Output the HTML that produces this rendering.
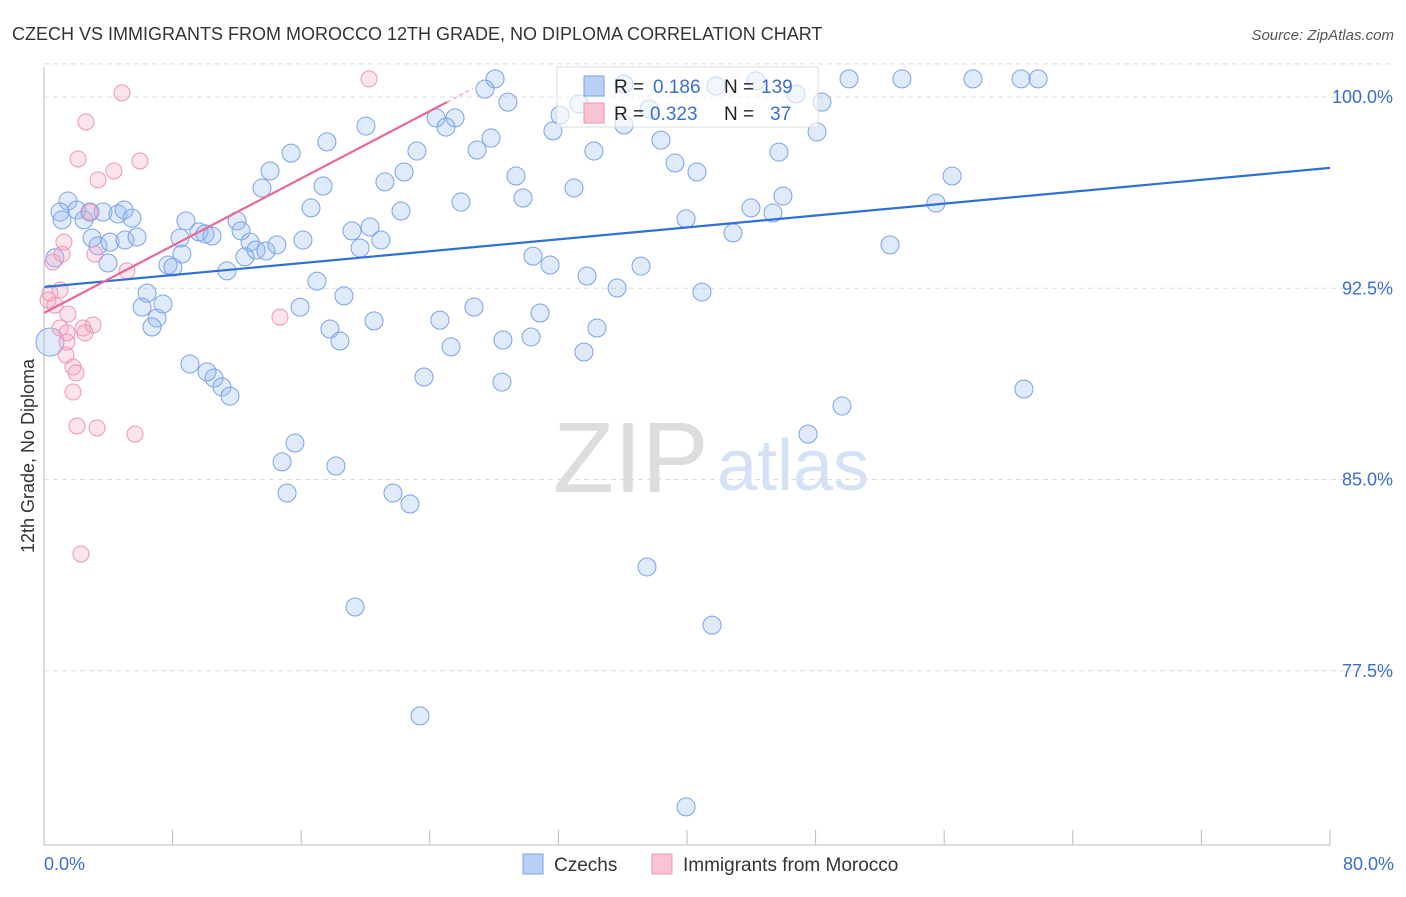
<!DOCTYPE html>
<html><head><meta charset="utf-8"><style>
body{margin:0;background:#fff;font-family:"Liberation Sans",sans-serif}
svg text{font-family:"Liberation Sans",sans-serif}
</style></head><body>
<svg id="chart" width="1406" height="892" viewBox="0 0 1406 892" xmlns="http://www.w3.org/2000/svg">
<text x="12" y="40" font-size="18" fill="#333">CZECH VS IMMIGRANTS FROM MOROCCO 12TH GRADE, NO DIPLOMA CORRELATION CHART</text>
<text x="1394" y="40" font-size="15" fill="#555" text-anchor="end" font-style="italic">Source: ZipAtlas.com</text>
<g id="grid"></g>
<g>
<text x="553" y="492" font-size="100" font-family="Liberation Serif" fill="#ddd">ZIP</text>
<text x="717" y="490" font-size="72" fill="#d5e2f5">atlas</text>
</g>
<g id="pts"></g>
<g id="lines"></g>
<g id="axes"></g>
<g>
<rect x="557" y="67" width="261" height="60" fill="#fff" fill-opacity="0.6" stroke="#ddd"/>
<rect x="584" y="76" width="20" height="20" fill="#b8d0f5" stroke="#7aa3e5"/>
<rect x="584" y="103" width="20" height="20" fill="#f8c4d4" stroke="#ee95b5"/>
<text x="614" y="93" font-size="19" fill="#222">R = </text><text x="653" y="93" font-size="19" fill="#3a6fd0">0.186</text>
<text x="724" y="93" font-size="19" fill="#222">N = </text><text x="761" y="93" font-size="19" fill="#3a6fd0">139</text>
<text x="614" y="120" font-size="19" fill="#222">R = </text><text x="650" y="120" font-size="19" fill="#3a6fd0">0.323</text>
<text x="724" y="120" font-size="19" fill="#222">N = </text><text x="770" y="120" font-size="19" fill="#3a6fd0">37</text>
</g>
<g>
<rect x="523" y="854" width="20" height="20" fill="#b8d0f5" stroke="#7aa3e5"/>
<text x="554" y="871" font-size="19" fill="#333">Czechs</text>
<rect x="652" y="854" width="20" height="20" fill="#f8c4d4" stroke="#ee95b5"/>
<text x="683" y="871" font-size="19" fill="#333">Immigrants from Morocco</text>
</g>
<text transform="translate(34,456) rotate(-90)" font-size="18" fill="#333" text-anchor="middle">12th Grade, No Diploma</text>
</svg>
<script>
const yTicks=[100,92.5,85,77.5];
const yTickLabels=["100.0%","92.5%","85.0%","77.5%"];
const xTickLabels=["0.0%","80.0%"];
const czX=[28.06,27.43,28.86,24.39,25.57,25.01,27.81,26.94,23.2,22.4,21.21,20.03,17.6,15.37,14.06,13.56,17.36,16.61,19.16,20.28,19.66,20.96,22.21,25.94,29.36,29.8,30.42,31.48,33.78,35.65,37.14,39.94,40.93,42.86,43.98,45.35,45.97,52.63,55.49,56.49,40.62,39.25,38.38,34.21,32.97,31.66,32.1,33.28,36.08,36.08,37.64,41.8,44.29,46.78,48.4,48.09,45.72,50.08,53.37,57.79,60.78,61.84,1.49,1,2.05,1.12,2.49,2.86,3.67,4.6,4.98,5.47,2.99,3.36,4.11,5.04,5.79,3.98,0.68,0.37,6.41,6.1,7.03,6.72,7.4,7.71,8.02,8.46,8.83,8.58,9.64,10.02,10.45,11.38,12.01,12.26,12.82,13.19,12.5,13.81,14.49,16.11,16.98,15.93,18.66,17.79,18.41,20.53,24.63,25.32,26.75,28.55,30.3,30.86,33.59,34.4,23.64,28.49,9.08,10.14,10.58,11.07,11.57,15.61,14.81,15.12,18.16,21.71,22.77,19.35,37.51,41.56,23.39,39.94,47.53,49.64,60.96];
const czY=[100.71,100.31,99.8,99.18,99.18,98.82,98.39,97.92,97.88,97.06,96.67,98.86,98.24,97.8,97.1,96.43,96.51,95.65,94.75,94.9,94.08,94.39,95.53,95.88,96.9,96.04,93.76,93.41,92.98,92.51,93.37,95.22,92.35,94.67,95.65,95.45,96.12,94.2,95.84,96.9,97.06,97.41,98.31,97.88,96.43,98.67,99.29,99.73,100.51,98.9,99.53,100.43,100.63,100.12,99.8,98.63,97.84,100.71,100.71,100.71,100.71,100.71,95.92,95.49,95.57,95.18,95.18,95.49,95.49,95.41,95.57,95.25,94.47,94.16,94.31,94.39,94.51,93.49,93.69,90.39,92.31,91.76,91.33,90.98,91.88,93.41,93.33,94.47,95.14,93.84,94.71,94.63,94.55,93.18,95.14,94.75,94.31,94,93.73,93.96,94.2,94.39,92.78,91.76,92.2,90.9,90.43,91.22,91.25,90.2,91.76,90.47,90.59,91.53,90,90.94,89.02,88.82,89.53,89.22,88.98,88.63,88.27,86.43,85.69,84.47,85.53,84.47,84.04,80,81.57,79.29,75.73,72.16,86.78,87.88,88.55];
const moX=[20.22,4.85,2.61,2.12,5.97,4.35,3.36,2.86,1.24,1.12,0.56,5.16,0.37,0.25,0.68,14.68,1,1.43,2.43,3.05,2.55,1.43,1.37,1.8,1.99,1.8,2.05,3.3,5.66,2.3,1,3.17,1.49];
const moY=[100.71,100.16,99.02,97.57,97.49,97.1,96.75,95.49,94.31,93.84,93.53,93.18,92.31,92.04,91.84,91.37,90.94,90.75,90.94,91.06,90.75,90.39,89.88,89.41,89.18,88.43,87.1,87.02,86.78,82.08,92.43,93.84,91.49];
const czLine=[[0,92.55],[80,97.22]];
const moLine=[[0,91.53],[25.07,99.8]];
const NS="http://www.w3.org/2000/svg";
const X=v=>44+v*16.075, Y=v=>97+(100-v)*25.5;
function mk(tag,attrs,parent){const e=document.createElementNS(NS,tag);for(const k in attrs)e.setAttribute(k,attrs[k]);parent.appendChild(e);return e;}
const grid=document.getElementById('grid'),axes=document.getElementById('axes'),pts=document.getElementById('pts'),lines=document.getElementById('lines');
[101.3].concat(yTicks).forEach((t,i)=>{const l=mk('line',{x1:44,x2:1394,y1:Y(t),y2:Y(t),stroke:'#ddd','stroke-dasharray':'5,4'},grid);

});
yTicks.forEach((t,i)=>{const tx=mk('text',{x:1393,y:Y(t)+6,'font-size':18,fill:'#3a6fd0','text-anchor':'end'},axes);tx.textContent=yTickLabels[i];

});
mk('line',{x1:44,x2:44,y1:67,y2:845,stroke:'#bbb'},axes);
mk('line',{x1:44,x2:1330,y1:845,y2:845,stroke:'#bbb'},axes);
for(let k=0;k<=10;k++){const x=X(k*8);const tk=mk('line',{x1:x,x2:x,y1:830,y2:845,stroke:'#bbb'},axes);

}
[[0,'start',44],[80,'end',1394]].forEach((d,i)=>{const tx=mk('text',{x:d[2],y:870,'font-size':18,fill:'#3a6fd0','text-anchor':d[1]},axes);tx.textContent=xTickLabels[i];

});
czX.forEach((v,i)=>{const r=(v<0.5&&czY[i]<91)?14:9;const c=mk('circle',{cx:X(v),cy:Y(czY[i]),r:r,fill:'rgba(150,185,240,0.3)',stroke:'#7aa3e5','stroke-width':1},pts);

});
moX.forEach((v,i)=>{const c=mk('circle',{cx:X(v),cy:Y(moY[i]),r:8,fill:'rgba(245,165,195,0.3)',stroke:'#ee95b5','stroke-width':1},pts);

});
const l1=mk('line',{x1:X(czLine[0][0]),y1:Y(czLine[0][1]),x2:X(czLine[1][0]),y2:Y(czLine[1][1]),stroke:'#2f6fd6','stroke-width':2.2},lines);


const l2=mk('line',{x1:X(moLine[0][0]),y1:Y(moLine[0][1]),x2:X(moLine[1][0]),y2:Y(moLine[1][1]),stroke:'#e8689a','stroke-width':2.2},lines);


const s=(moLine[1][1]-moLine[0][1])/(moLine[1][0]-moLine[0][0]);const xe=moLine[1][0]+1.6;
const l3=mk('line',{x1:X(moLine[1][0]),y1:Y(moLine[1][1]),x2:X(xe),y2:Y(moLine[1][1]+s*1.6),stroke:'#f0a8c3','stroke-width':1.5,'stroke-dasharray':'4,3'},lines);


</script>
</body></html>
